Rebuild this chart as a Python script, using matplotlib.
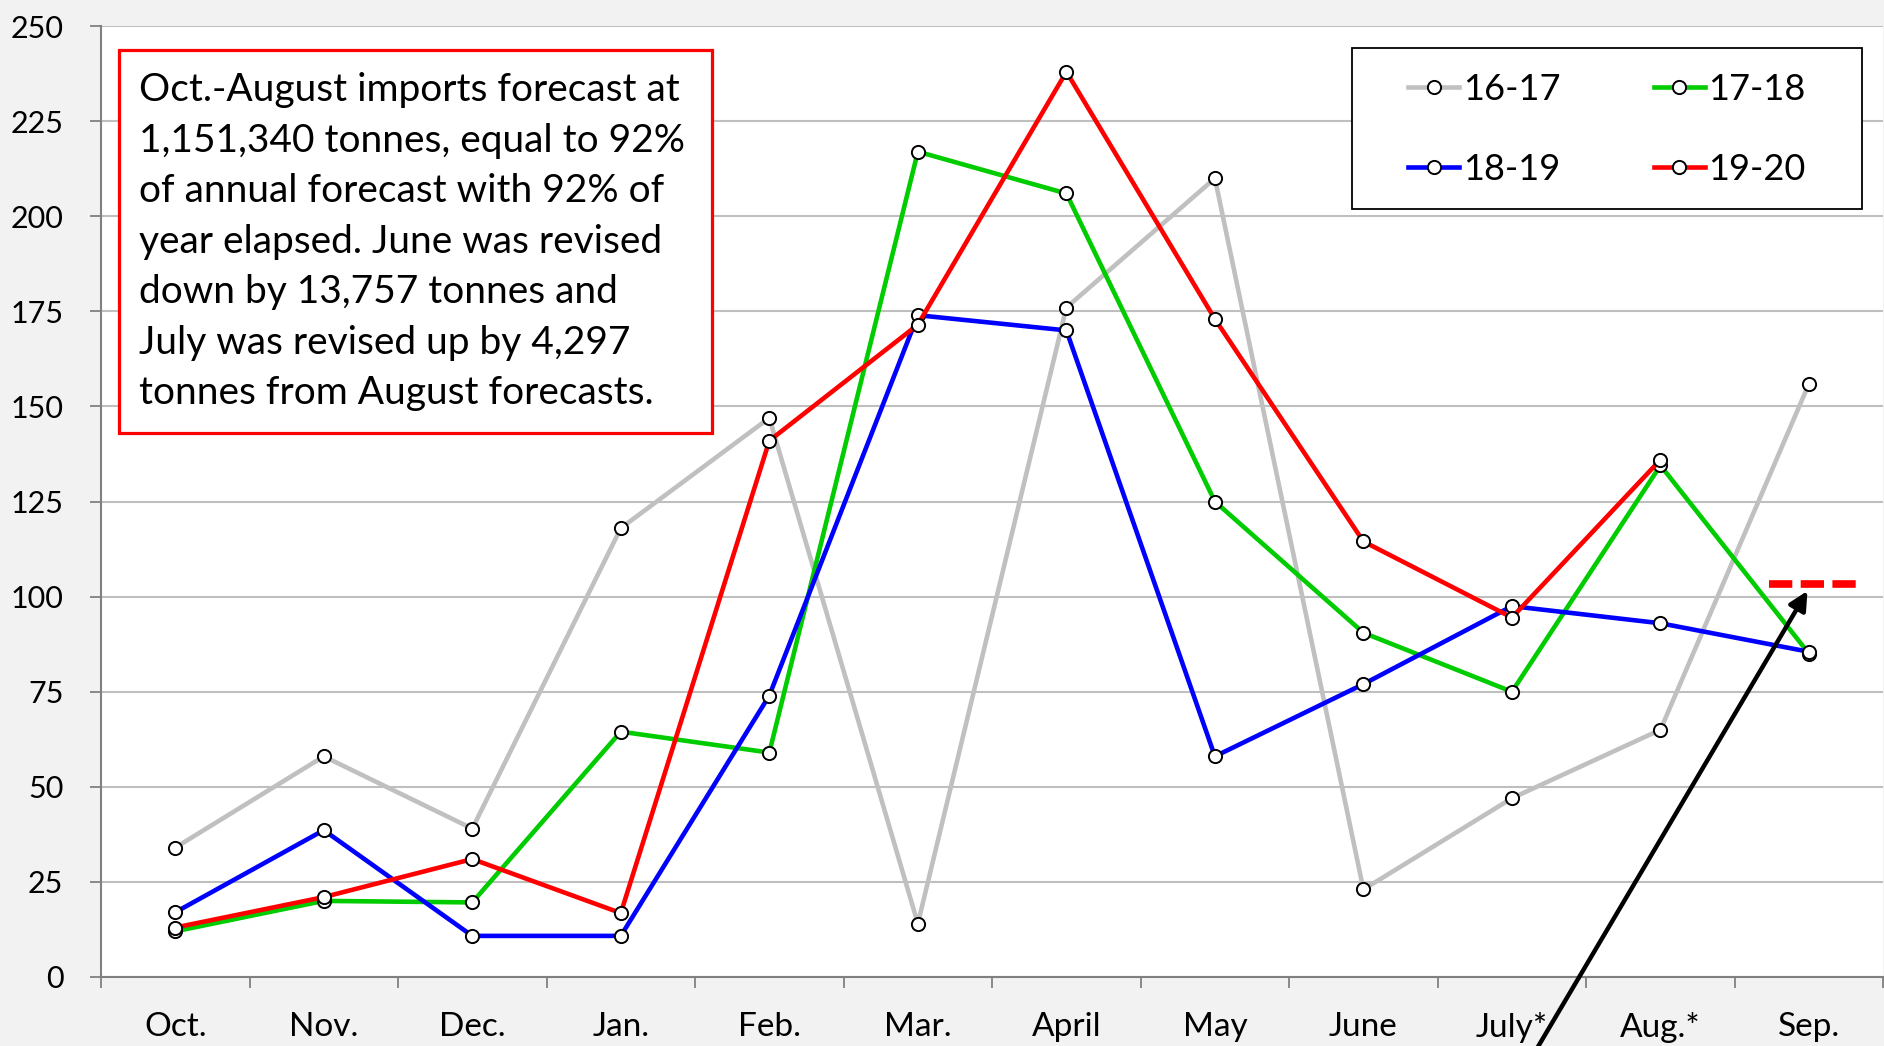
import matplotlib
matplotlib.use("Agg")
import matplotlib.pyplot as plt
from matplotlib.patches import Rectangle

plt.rcParams["font.family"] = ["Lato", "DejaVu Sans"]

# --- data (thousand tonnes) ---
months = ["Oct.", "Nov.", "Dec.", "Jan.", "Feb.", "Mar.", "April", "May",
          "June", "July*", "Aug.*", "Sep."]
y16_17 = [34, 58, 39, 118, 147, 14, 176, 210, 23, 47, 65, 156]
y17_18 = [12, 20, 19.6, 64.5, 59, 217, 206, 125, 90.5, 75, 134.5, 85]
y18_19 = [17, 38.6, 10.8, 10.8, 74, 174, 170, 58, 77, 97.5, 93, 85.5]
y19_20 = [13, 21, 31, 16.8, 141, 171.5, 238, 173, 114.5, 94.5, 136]
sep_forecast = 103.4

series = [
    ("16-17", y16_17, "#C0C0C0"),
    ("17-18", y17_18, "#00CC00"),
    ("18-19", y18_19, "#0000FF"),
    ("19-20", y19_20, "#FF0000"),
]

note = ("Oct.-August imports forecast at\n"
        "1,151,340 tonnes, equal to 92%\n"
        "of annual forecast with 92% of\n"
        "year elapsed. June was revised\n"
        "down by 13,757 tonnes and\n"
        "July was revised up by 4,297\n"
        "tonnes from August forecasts.")

fig = plt.figure(figsize=(18.84, 10.46), dpi=100, facecolor="#F2F2F2")
ax = fig.add_axes([0.0536, 0.066, 0.946, 0.909])
ax.set_facecolor("white")

handles = []
for name, vals, col in series:
    h, = ax.plot(range(len(vals)), vals, color=col, lw=3.3, marker="o",
                 markersize=9.5, markerfacecolor="white",
                 markeredgecolor="black", markeredgewidth=1.4,
                 label=name, zorder=3)
    handles.append(h)

# red dashed September forecast
ax.plot([10.73, 11.32], [sep_forecast, sep_forecast], color="#FF0000",
        lw=5.5, ls=(0, (3.05, 1.1)), solid_capstyle="butt",
        dash_capstyle="butt", zorder=3)

ax.annotate("", xy=(10.99, 101.5), xytext=(9.12, -22),
            arrowprops=dict(arrowstyle="-|>", lw=3.2, color="black",
                            mutation_scale=28, shrinkA=0, shrinkB=0),
            annotation_clip=False, zorder=5)

ax.set_xlim(-0.5, 11.5)
ax.set_ylim(0, 250)
ax.set_yticks(range(0, 251, 25))
ax.set_xticks([i - 0.5 for i in range(13)])
ax.set_xticklabels([])
ax.set_xticks(range(12), minor=True)
ax.set_xticklabels(months, minor=True)
ax.tick_params(axis="x", which="major", length=8, width=1.3, color="#808080",
               direction="out")
ax.tick_params(axis="x", which="minor", length=0, pad=25, labelsize=24)
ax.tick_params(axis="y", length=8, width=1.3, color="#808080", pad=19,
               labelsize=22)
ax.grid(axis="y", color="#BFBFBF", lw=1.5, zorder=0)
ax.set_axisbelow(True)
for s in ["top", "right"]:
    ax.spines[s].set_visible(False)
for s in ["left", "bottom"]:
    ax.spines[s].set_color("#808080")
    ax.spines[s].set_linewidth(1.5)

# note box
fig.patches.append(Rectangle((0.0632, 0.586), 0.3148, 0.366,
                             transform=fig.transFigure, facecolor="white",
                             edgecolor="#FF0000", lw=2.3, zorder=4))
fig.text(0.0738, 0.769, note, fontsize=28, linespacing=1.5,
         va="center", ha="left", zorder=6)

# legend box
fig.patches.append(Rectangle((1352 / 1884, 1 - 209 / 1046), 510 / 1884,
                             161 / 1046, transform=fig.transFigure,
                             facecolor="white", edgecolor="black", lw=1.3,
                             zorder=4))
leg = fig.legend(handles=[handles[0], handles[2], handles[1], handles[3]],
                 ncol=2, loc="center",
                 bbox_to_anchor=((1352 + 255) / 1884, 1 - 129.5 / 1046),
                 frameon=False, fontsize=26, handlelength=1.4,
                 handletextpad=0.1, columnspacing=2.6, labelspacing=1.3,
                 borderpad=0)
leg.set_zorder(7)

fig.savefig("out.png", dpi=100, facecolor=fig.get_facecolor())
